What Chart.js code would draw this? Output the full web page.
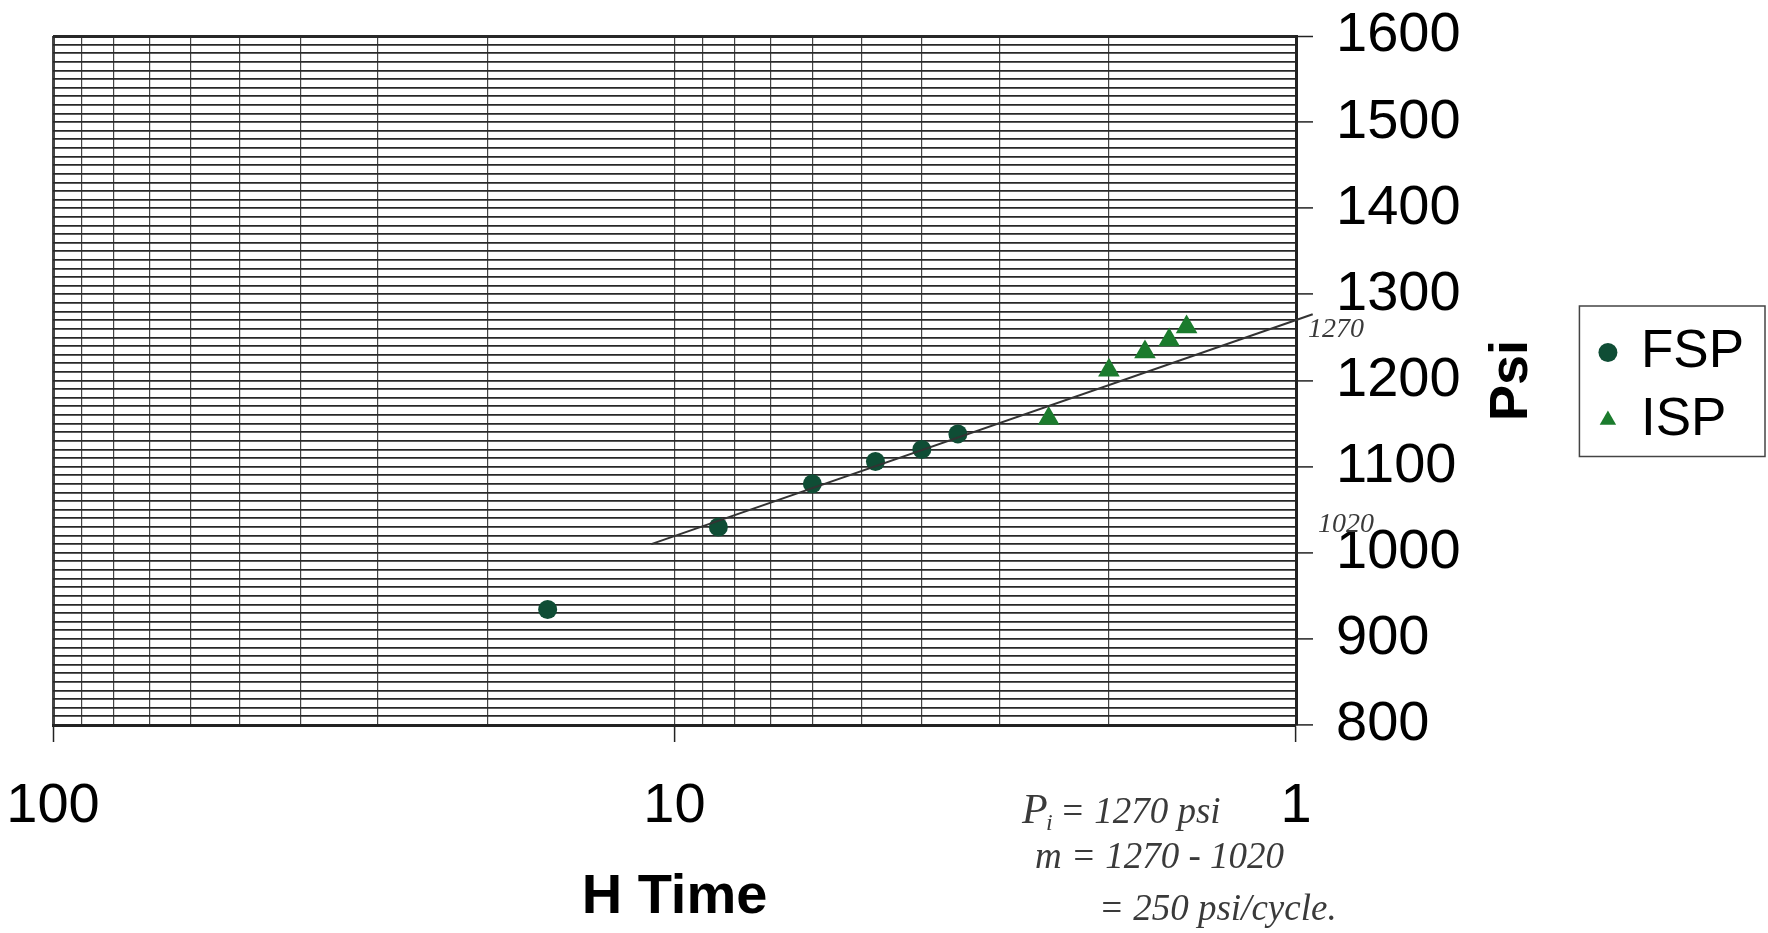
<!DOCTYPE html>
<html lang="en">
<head>
<meta charset="UTF-8">
<title>Horner Plot - FSP / ISP</title>
<script src="https://cdn.jsdelivr.net/npm/chart.js"></script>
<style>
    body { margin: 0; background: #fff; }
    #wrap { width: 1768px; height: 933px; }
</style>
</head>
<body>
<div id="wrap"><canvas id="hornerChart"></canvas></div>
<script>
    // values (Horner time, pressure in psi)
    const fspTime = [16, 8.5, 6, 4.75, 4, 3.5];
    const fspPsi = [934, 1030, 1080, 1106, 1120, 1138];
    const ispTime = [2.5, 2, 1.75, 1.6, 1.5];
    const ispPsi = [1156, 1212, 1233, 1247, 1262];
    // hand drawn straight line, end points
    const trendTime = [10.9, 0.94];
    const trendPsi = [1010, 1277];

    // axes
    const xGridValues = [1, 2, 3, 4, 5, 6, 7, 8, 9, 10, 20, 30, 40, 50, 60, 70, 80, 90, 100];
    const xLabelValues = [1, 10, 100];
    const yMin = 800, yMax = 1600, yStep = 10, yLabelStep = 100;

    // handwritten notes on the sheet
    const noteHigh = '1270';
    const noteLow = '1020';
    const noteLines = ['= 1270 psi', 'm = 1270 - 1020', '= 250 psi/cycle.'];

    Chart.defaults.font.family = '"Liberation Sans", Arial, sans-serif';

    const toPoints = (xs, ys) => xs.map((x, i) => ({ x: x, y: ys[i] }));

    // legend frame, rotated y title and the pencil notes
    const extras = {
        id: 'extras',
        afterDraw(chart) {
            const { ctx, chartArea, scales } = chart;
            const y = scales.y;
            ctx.save();

            const boxes = chart.legend.legendHitBoxes;
            if (boxes.length) {
                const l = Math.min(...boxes.map(b => b.left)) - 22;
                const r = Math.max(...boxes.map(b => b.left + b.width)) + 21;
                const t = boxes[0].top - 20;
                const last = boxes[boxes.length - 1];
                const b = last.top + last.height + 10;
                ctx.strokeStyle = '#444';
                ctx.lineWidth = 1.5;
                ctx.strokeRect(l, t, r - l, b - t);
            }

            // "Psi" reads bottom to top
            ctx.save();
            ctx.translate(1512, (chartArea.top + chartArea.bottom) / 2);
            ctx.rotate(-Math.PI / 2);
            ctx.font = 'bold 54px "Liberation Sans", Arial, sans-serif';
            ctx.fillStyle = '#000';
            ctx.textAlign = 'center';
            ctx.textBaseline = 'middle';
            ctx.fillText('Psi', 0, 0);
            ctx.restore();

            // pencil notes
            ctx.fillStyle = '#3a3a3a';
            ctx.textAlign = 'left';
            ctx.textBaseline = 'alphabetic';
            ctx.font = 'italic 28px "Liberation Serif", serif';
            ctx.fillText(noteHigh, chartArea.right + 12, y.getPixelForValue(1270) + 17);
            ctx.fillText(noteLow, chartArea.right + 22, y.getPixelForValue(1020) - 4);

            ctx.font = 'italic 42px "Liberation Serif", serif';
            ctx.fillText('P', 1022, 823);
            ctx.font = 'italic 24px "Liberation Serif", serif';
            ctx.fillText('i', 1046, 830);
            ctx.font = 'italic 37px "Liberation Serif", serif';
            ctx.fillText(noteLines[0], 1060, 823);
            ctx.fillText(noteLines[1], 1035, 868);
            ctx.fillText(noteLines[2], 1099, 920);
            ctx.restore();
        }
    };

    new Chart(document.getElementById('hornerChart'), {
        type: 'scatter',
        data: {
            datasets: [{
                label: 'FSP',
                data: toPoints(fspTime, fspPsi),
                pointStyle: 'circle',
                pointRadius: 9.5,
                backgroundColor: '#0f4d35',
                borderColor: '#0f4d35',
                borderWidth: 0,
                order: 1
            }, {
                label: 'ISP',
                data: toPoints(ispTime, ispPsi),
                pointStyle: 'triangle',
                pointRadius: 12.5,
                backgroundColor: '#1b7b2d',
                borderColor: '#1b7b2d',
                borderWidth: 0,
                order: 1
            }, {
                label: 'trend',
                data: toPoints(trendTime, trendPsi),
                showLine: true,
                pointRadius: 0,
                borderColor: '#333',
                borderWidth: 2,
                clip: false,
                order: 0
            }]
        },
        options: {
            responsive: true,
            maintainAspectRatio: false,
            animation: false,
            layout: { padding: { left: 53, top: 36, right: 14, bottom: 0 } },
            plugins: {
                tooltip: { enabled: false },
                legend: {
                    position: 'right',
                    fullSize: false,
                    title: { display: true, text: '', padding: { top: 11.5, bottom: 0 }, font: { size: 0 } },
                    labels: {
                        usePointStyle: true,
                        boxWidth: 13,
                        boxHeight: 13.4,
                        padding: 14.5,
                        color: '#000',
                        font: { size: 53 },
                        filter: item => item.text !== 'trend'
                    }
                }
            },
            scales: {
                x: {
                    type: 'logarithmic',
                    position: 'bottom',
                    reverse: true,
                    min: 1,
                    max: 100,
                    afterBuildTicks: scale => { scale.ticks = xGridValues.map(v => ({ value: v })); },
                    afterFit: scale => { scale.height = 208; },
                    ticks: {
                        autoSkip: false,
                        maxRotation: 0,
                        padding: 31,
                        color: '#000',
                        font: { size: 56 },
                        callback: v => xLabelValues.includes(v) ? String(v) : ''
                    },
                    grid: {
                        color: '#444',
                        lineWidth: c => c.tick && c.tick.value === 100 ? 3 : 1.2,
                        tickLength: 17,
                        tickWidth: 1.5,
                        tickColor: c => c.tick && xLabelValues.includes(c.tick.value) ? '#222' : 'rgba(0,0,0,0)'
                    },
                    border: { color: '#222', width: 3 },
                    title: {
                        display: true,
                        text: 'H Time',
                        color: '#000',
                        font: { size: 56, weight: 'bold' },
                        padding: { top: 0, bottom: 2 }
                    }
                },
                y: {
                    position: 'right',
                    min: yMin,
                    max: yMax,
                    afterFit: scale => {
                        scale.width = 290.9;
                        // top label may hang above the plot, like on the sheet
                        scale.paddingTop = 0;
                        scale.paddingBottom = 0;
                    },
                    ticks: {
                        stepSize: yStep,
                        autoSkip: false,
                        padding: 23,
                        color: '#000',
                        font: { size: 56 },
                        callback: v => v % yLabelStep === 0 ? String(v) : ''
                    },
                    grid: {
                        color: '#282828',
                        lineWidth: c => c.tick && c.tick.value === yMax ? 3 : 1.8,
                        tickLength: 17,
                        tickWidth: 1.5,
                        tickColor: c => c.tick && c.tick.value % yLabelStep === 0 ? '#222' : 'rgba(0,0,0,0)'
                    },
                    border: { color: '#222', width: 3 }
                }
            }
        },
        plugins: [extras]
    });
</script>
</body>
</html>
